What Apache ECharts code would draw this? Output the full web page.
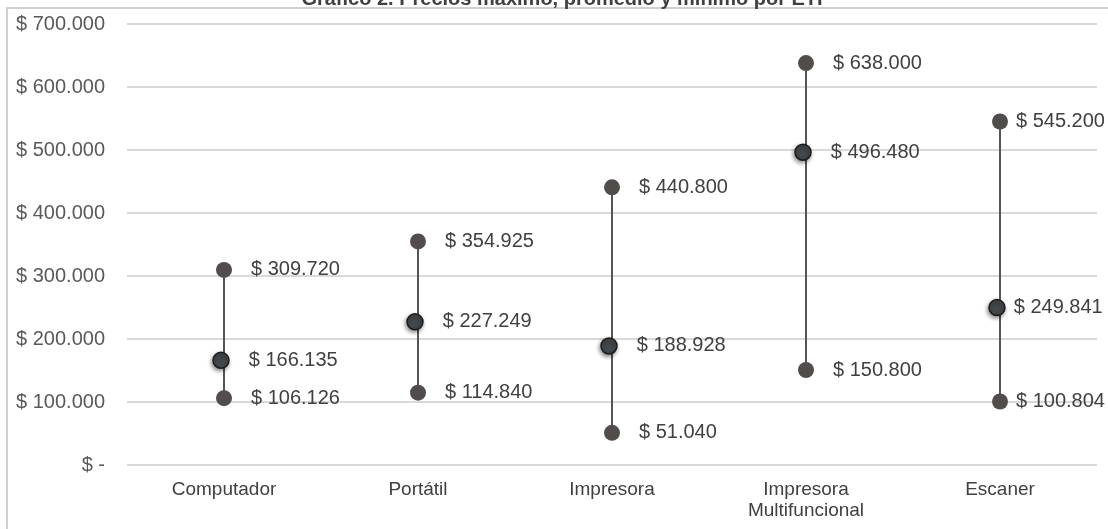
<!DOCTYPE html>
<html>
<head>
<meta charset="utf-8">
<script src="https://cdn.jsdelivr.net/npm/echarts@6/dist/echarts.min.js"></script>
<style>
  html, body { margin: 0; padding: 0; background: #fff; }
  #chart { width: 1108px; height: 529px; }
</style>
</head>
<body>
<div id="chart"></div>
<script>
const categories = ['Computador', 'Portátil', 'Impresora', 'Impresora\nMultifuncional', 'Escaner']
const maxValues = [309720, 354925, 440800, 638000, 545200]
const meanValues = [166135, 227249, 188928, 496480, 249841]
const minValues = [106126, 114840, 51040, 150800, 100804]
const yTicks = [0, 100000, 200000, 300000, 400000, 500000, 600000, 700000]

const FONT = 'Arial, "Liberation Sans", sans-serif'

function money(v) {
  if (v === 0) return '$ -'
  return '$ ' + String(v).replace(/\B(?=(\d{3})+(?!\d))/g, '.')
}

const labelStyle = {
  show: true,
  position: 'right',
  distance: 19,
  fontFamily: FONT,
  fontSize: 20,
  color: '#404040',
  formatter: (p) => money(p.value[1])
}

// last column: labels pushed in so they stay inside the chart
function points(values) {
  return values.map((v, i) => {
    const item = { value: [i, v] }
    if (i === values.length - 1) item.label = { distance: 8 }
    return item
  })
}

const mychart = echarts.init(document.getElementById('chart'))

mychart.setOption({
  animation: false,
  title: {
    text: 'Gráfico 2. Precios máximo, promedio y mínimo por ETI',
    left: 557,
    textAlign: 'center',
    top: -16,
    textStyle: { fontFamily: FONT, fontSize: 20, fontWeight: 'bold', color: '#404040' }
  },
  graphic: [
    { type: 'rect', shape: { x: 7, y: 7, width: 1101, height: 2 }, style: { fill: '#d0d0d0' } },
    { type: 'rect', shape: { x: 6, y: 7, width: 2, height: 522 }, style: { fill: '#d0d0d0' } }
  ],
  grid: { left: 127, right: 11, top: 24, bottom: 64 },
  xAxis: {
    type: 'category',
    data: categories,
    axisLine: { show: false },
    axisTick: { show: false },
    axisLabel: {
      margin: 14,
      fontFamily: FONT,
      fontSize: 19,
      lineHeight: 21,
      color: '#404040'
    }
  },
  yAxis: {
    type: 'value',
    min: yTicks[0],
    max: yTicks[yTicks.length - 1],
    interval: 100000,
    axisLine: { show: false },
    axisTick: { show: false },
    splitLine: { lineStyle: { color: '#d9d9d9', width: 2 } },
    axisLabel: {
      margin: 22,
      fontFamily: FONT,
      fontSize: 20,
      color: '#595959',
      formatter: money
    }
  },
  series: [
    {
      type: 'custom',
      data: categories.map((c, i) => [i, minValues[i], maxValues[i]]),
      encode: { x: 0, y: [1, 2] },
      z: 1,
      renderItem(params, api) {
        const a = api.coord([api.value(0), api.value(1)])
        const b = api.coord([api.value(0), api.value(2)])
        return {
          type: 'line',
          shape: { x1: a[0], y1: a[1], x2: b[0], y2: b[1] },
          style: { stroke: '#595454', lineWidth: 2 }
        }
      }
    },
    {
      name: 'Máximo',
      type: 'scatter',
      z: 3,
      symbolSize: 16,
      itemStyle: { color: '#524d4d', opacity: 1 },
      label: labelStyle,
      data: points(maxValues)
    },
    {
      name: 'Promedio',
      type: 'scatter',
      z: 4,
      symbolSize: 16,
      symbolOffset: [-3, 0],
      itemStyle: {
        color: '#44484b',
        borderColor: '#1c1c1c',
        borderWidth: 1.5,
        opacity: 1,
        shadowColor: 'rgba(0,0,0,0.45)',
        shadowBlur: 4,
        shadowOffsetX: -1,
        shadowOffsetY: 2
      },
      label: labelStyle,
      data: points(meanValues)
    },
    {
      name: 'Mínimo',
      type: 'scatter',
      z: 3,
      symbolSize: 16,
      itemStyle: { color: '#524d4d', opacity: 1 },
      label: labelStyle,
      data: points(minValues)
    }
  ]
})
</script>
</body>
</html>
